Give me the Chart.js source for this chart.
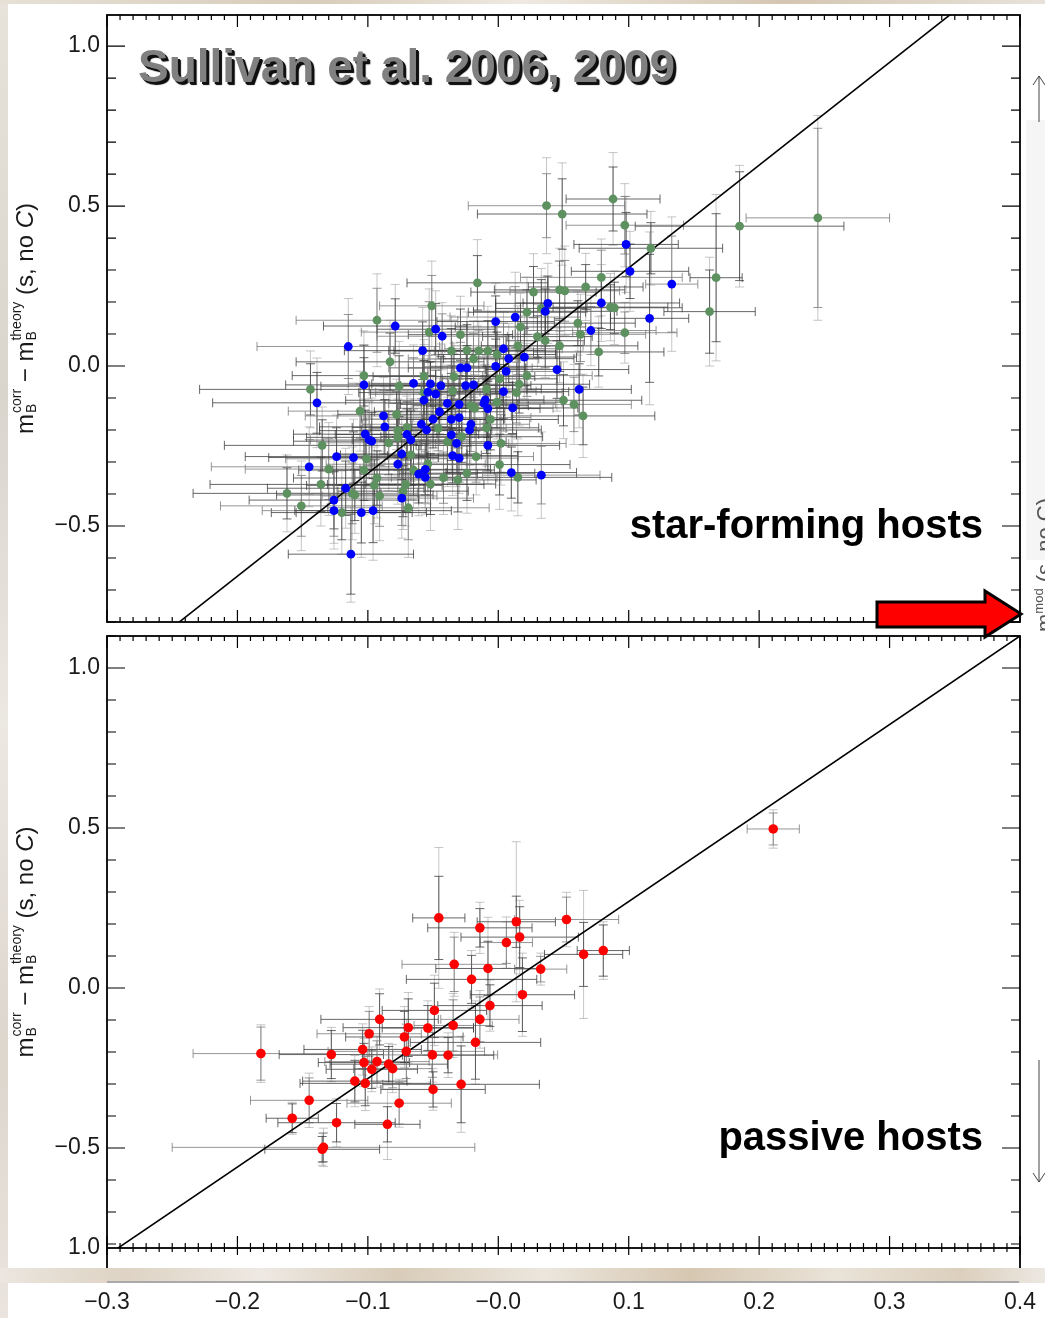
<!DOCTYPE html>
<html>
<head>
<meta charset="utf-8">
<script src="https://cdn.jsdelivr.net/npm/chart.js@4.4.1/dist/chart.umd.min.js"></script>
<style>
  html, body { margin: 0; padding: 0; background: #fff; }
  body { position: relative; width: 1045px; height: 1318px; overflow: hidden;
         font-family: 'Liberation Sans', Arial, Helvetica, sans-serif; }
  canvas { position: absolute; left: 0; }
  #topPanel { top: 0; }
  #bottomPanel { top: 630px; }
  .marble { position: absolute; }
  #edgeLeft { left: 0; top: 0; width: 8px; height: 1318px;
              background: linear-gradient(180deg, #e7e2da, #d9d4cc 30%, #ece8e2 55%, #dcd6cd 80%, #e9e4dd); }
  #edgeTop { left: 0; top: 0; width: 1045px; height: 4px;
             background: linear-gradient(90deg, #e6e0d6, #d8ccba 30%, #efe9e1 50%, #d4c6b2 75%, #e8e2da); }
  #edgeBottom { left: 0; top: 1268px; width: 1045px; height: 15px;
                background: linear-gradient(90deg, #ebe6df, #ded3c4 12%, #eee9e3 25%, #d9ccb9 38%, #ece6dd 52%, #d6c7b1 66%, #eae3d8 80%, #dccfbd 92%, #ece8e2); }
  #edgeLine { left: 107px; top: 1281px; width: 912px; height: 2px; background: #a9a9a9; }
  .note { position: absolute; font-weight: bold; white-space: nowrap; }
  #source { left: 138px; top: 43px; font-size: 46px; line-height: 46px; color: #808080;
            text-shadow: 2px 2px 0 #111, 3px 3px 1px #000; }
  #sfLabel { right: 62px; top: 504px; font-size: 40px; line-height: 40px; color: #000; }
  #pLabel { right: 62px; top: 1116px; font-size: 40px; line-height: 40px; color: #000; }
  svg { position: absolute; left: 0; top: 0; }
</style>
</head>
<body>
<div class="marble" id="edgeLeft"></div>
<div class="marble" id="edgeTop"></div>
<canvas id="topPanel" width="1045" height="630"></canvas>
<canvas id="bottomPanel" width="1045" height="688"></canvas>
<div class="marble" id="edgeBottom"></div>
<div class="marble" id="edgeLine"></div>
<div class="note" id="source">Sullivan et al. 2006, 2009</div>
<div class="note" id="sfLabel">star-forming hosts</div>
<div class="note" id="pLabel">passive hosts</div>
<svg width="1045" height="1318">
  <rect x="1026" y="120" width="19" height="440" fill="#f5f5f5"/>
  <line x1="1039" y1="122" x2="1039" y2="76" stroke="#444" stroke-width="1"/>
  <polyline points="1033,85 1039,76 1045,85" fill="none" stroke="#444" stroke-width="1"/>
  <line x1="1039" y1="1060" x2="1039" y2="1182" stroke="#444" stroke-width="1"/>
  <polyline points="1033,1173 1039,1182 1045,1173" fill="none" stroke="#444" stroke-width="1"/>
  <text transform="translate(1052,632) rotate(-90)" font-family="Liberation Sans, Arial, sans-serif" font-size="22" fill="#555">m<tspan font-size="13" dy="-9">mod</tspan><tspan dy="9"> (s, no C)</tspan></text>
  <polygon points="877,602 985,602 985,591 1021,614 985,637 985,627 877,627" fill="#ff0000" stroke="#000" stroke-width="3" stroke-linejoin="miter"/>
</svg>

<script>
// axis ranges and tick labels
const xRange = [-0.3, 0.4];
const topYRange = [-0.8, 1.097];
const bottomYRange = [-0.8125, 1.1];
const xTickValues = [-0.3, -0.2, -0.1, 0.0, 0.1, 0.2, 0.3, 0.4];
const xTickLabels = ['−0.3', '−0.2', '−0.1', '−0.0', '0.1', '0.2', '0.3', '0.4'];
const topYTickValues = [1.0, 0.5, 0.0, -0.5];
const topYTickLabels = ['1.0', '0.5', '0.0', '−0.5'];
const bottomYTickValues = [1.0, 0.5, 0.0, -0.5, -0.8125];
const bottomYTickLabels = ['1.0', '0.5', '0.0', '−0.5', '1.0'];

// one-to-one reference lines
const topFitLine = [[-0.30, -0.978], [0.40, 1.270]];
const bottomFitLine = [[-0.30, -0.836], [0.40, 1.100]];

// [x, y, x error, y error (stat), y error (total)]
const greenHosts = [
  [0.037, 0.501, 0.060, 0.100, 0.150], [-0.016, 0.260, 0.054, 0.085, 0.135],
  [0.027, 0.231, 0.048, 0.080, 0.120], [-0.051, 0.188, 0.040, 0.095, 0.140],
  [0.022, 0.168, 0.045, 0.070, 0.110], [0.033, 0.180, 0.035, 0.090, 0.125],
  [-0.093, 0.143, 0.062, 0.100, 0.145], [0.017, 0.122, 0.050, 0.075, 0.105],
  [-0.029, 0.098, 0.040, 0.080, 0.120], [-0.053, 0.106, 0.052, 0.095, 0.135],
  [0.036, 0.079, 0.030, 0.085, 0.115], [0.030, 0.092, 0.042, 0.065, 0.100],
  [0.015, 0.063, 0.050, 0.090, 0.125], [-0.036, 0.047, 0.044, 0.070, 0.110],
  [-0.024, 0.049, 0.060, 0.080, 0.120], [-0.015, 0.047, 0.034, 0.065, 0.095],
  [-0.008, 0.047, 0.052, 0.095, 0.140], [-0.001, 0.036, 0.045, 0.070, 0.105],
  [-0.019, 0.022, 0.050, 0.080, 0.120], [-0.083, 0.013, 0.072, 0.090, 0.130],
  [-0.103, -0.030, 0.055, 0.095, 0.140], [-0.057, -0.032, 0.045, 0.080, 0.115],
  [-0.034, -0.033, 0.062, 0.070, 0.105], [0.001, -0.040, 0.044, 0.090, 0.130],
  [0.022, -0.030, 0.050, 0.065, 0.100], [-0.144, -0.073, 0.085, 0.080, 0.120],
  [-0.076, -0.063, 0.060, 0.095, 0.140], [-0.106, -0.141, 0.055, 0.085, 0.125],
  [-0.078, -0.151, 0.045, 0.070, 0.110], [-0.057, -0.083, 0.050, 0.100, 0.150],
  [-0.035, -0.078, 0.064, 0.080, 0.120], [-0.009, -0.072, 0.042, 0.070, 0.105],
  [0.016, -0.057, 0.054, 0.090, 0.130], [0.014, -0.083, 0.035, 0.095, 0.140],
  [-0.001, -0.113, 0.050, 0.080, 0.115], [-0.021, -0.124, 0.044, 0.085, 0.125],
  [-0.018, -0.132, 0.060, 0.070, 0.105], [-0.006, -0.167, 0.052, 0.095, 0.140],
  [-0.009, -0.193, 0.040, 0.080, 0.120], [0.002, -0.242, 0.050, 0.090, 0.130],
  [-0.028, -0.221, 0.062, 0.080, 0.115], [-0.039, -0.237, 0.045, 0.095, 0.140],
  [-0.046, -0.195, 0.052, 0.070, 0.105], [-0.077, -0.202, 0.060, 0.085, 0.125],
  [-0.070, -0.192, 0.042, 0.080, 0.115], [-0.084, -0.240, 0.050, 0.100, 0.150],
  [-0.077, -0.223, 0.070, 0.080, 0.120], [-0.067, -0.278, 0.054, 0.095, 0.140],
  [-0.054, -0.306, 0.044, 0.085, 0.125], [-0.065, -0.325, 0.062, 0.080, 0.120],
  [-0.052, -0.369, 0.050, 0.095, 0.145], [-0.042, -0.349, 0.040, 0.080, 0.115],
  [-0.031, -0.356, 0.060, 0.100, 0.155], [-0.024, -0.335, 0.052, 0.085, 0.125],
  [-0.017, -0.283, 0.044, 0.080, 0.120], [0.001, -0.308, 0.054, 0.095, 0.140],
  [0.015, -0.348, 0.072, 0.080, 0.120], [-0.101, -0.290, 0.062, 0.085, 0.130],
  [-0.103, -0.325, 0.050, 0.095, 0.140], [-0.135, -0.248, 0.075, 0.080, 0.120],
  [-0.130, -0.322, 0.064, 0.095, 0.145], [-0.136, -0.370, 0.085, 0.085, 0.130],
  [-0.162, -0.398, 0.072, 0.080, 0.120], [-0.151, -0.437, 0.062, 0.095, 0.140],
  [-0.120, -0.458, 0.054, 0.085, 0.130], [-0.110, -0.403, 0.060, 0.080, 0.120],
  [-0.112, -0.398, 0.050, 0.095, 0.145], [-0.093, -0.350, 0.064, 0.085, 0.125],
  [-0.095, -0.373, 0.052, 0.080, 0.120], [-0.091, -0.406, 0.044, 0.095, 0.140],
  [-0.071, -0.370, 0.060, 0.085, 0.130], [-0.073, -0.391, 0.050, 0.080, 0.120],
  [-0.069, -0.443, 0.062, 0.100, 0.155], [0.049, 0.475, 0.065, 0.110, 0.160],
  [0.088, 0.522, 0.036, 0.100, 0.145], [0.097, 0.440, 0.045, 0.090, 0.130],
  [0.117, 0.368, 0.055, 0.080, 0.115], [0.185, 0.437, 0.080, 0.170, 0.190],
  [0.245, 0.463, 0.055, 0.280, 0.320], [0.167, 0.276, 0.020, 0.200, 0.260],
  [0.162, 0.170, 0.035, 0.130, 0.170], [0.079, 0.277, 0.062, 0.085, 0.120],
  [0.067, 0.247, 0.044, 0.070, 0.105], [0.047, 0.238, 0.050, 0.090, 0.130],
  [0.051, 0.235, 0.042, 0.095, 0.140], [0.047, 0.063, 0.060, 0.080, 0.115],
  [0.061, 0.134, 0.044, 0.070, 0.100], [0.063, 0.099, 0.050, 0.085, 0.125],
  [0.086, 0.184, 0.044, 0.070, 0.105], [0.089, 0.182, 0.052, 0.080, 0.115],
  [0.097, 0.104, 0.040, 0.065, 0.095], [0.077, 0.044, 0.050, 0.075, 0.110],
  [0.050, -0.107, 0.060, 0.080, 0.120], [0.058, -0.120, 0.044, 0.085, 0.125],
  [0.065, -0.156, 0.055, 0.090, 0.130]
];

const blueHosts = [
  [-0.115, 0.061, 0.070, 0.100, 0.150], [-0.079, 0.125, 0.055, 0.085, 0.130],
  [-0.048, 0.115, 0.045, 0.080, 0.120], [-0.043, 0.093, 0.050, 0.070, 0.105],
  [-0.058, 0.048, 0.060, 0.090, 0.135], [-0.002, 0.139, 0.045, 0.080, 0.120],
  [0.013, 0.153, 0.050, 0.095, 0.140], [0.038, 0.196, 0.040, 0.085, 0.125],
  [0.036, 0.171, 0.055, 0.070, 0.110], [0.004, 0.054, 0.045, 0.080, 0.115],
  [0.008, 0.023, 0.050, 0.075, 0.110], [0.020, 0.028, 0.040, 0.090, 0.130],
  [-0.029, -0.006, 0.055, 0.080, 0.120], [-0.024, -0.006, 0.045, 0.070, 0.105],
  [-0.002, -0.001, 0.050, 0.085, 0.125], [0.006, -0.017, 0.040, 0.080, 0.115],
  [-0.139, -0.115, 0.080, 0.095, 0.140], [-0.103, -0.059, 0.060, 0.085, 0.125],
  [-0.065, -0.054, 0.050, 0.080, 0.120], [-0.052, -0.056, 0.045, 0.070, 0.105],
  [-0.044, -0.061, 0.055, 0.090, 0.130], [-0.054, -0.082, 0.040, 0.080, 0.115],
  [-0.048, -0.088, 0.050, 0.075, 0.110], [-0.057, -0.107, 0.060, 0.085, 0.125],
  [-0.039, -0.117, 0.045, 0.080, 0.120], [-0.045, -0.143, 0.050, 0.070, 0.105],
  [-0.050, -0.166, 0.055, 0.090, 0.135], [-0.059, -0.182, 0.045, 0.080, 0.120],
  [-0.055, -0.200, 0.050, 0.085, 0.125], [-0.036, -0.167, 0.040, 0.075, 0.110],
  [-0.030, -0.161, 0.055, 0.080, 0.120], [-0.030, -0.120, 0.045, 0.090, 0.130],
  [-0.025, -0.061, 0.050, 0.070, 0.105], [-0.019, -0.059, 0.040, 0.080, 0.115],
  [0.004, -0.080, 0.050, 0.085, 0.125], [-0.010, -0.106, 0.045, 0.075, 0.110],
  [-0.011, -0.117, 0.055, 0.080, 0.120], [-0.008, -0.133, 0.040, 0.090, 0.130],
  [0.011, -0.131, 0.050, 0.080, 0.115], [-0.021, -0.182, 0.045, 0.085, 0.125],
  [-0.022, -0.200, 0.055, 0.075, 0.110], [-0.036, -0.215, 0.050, 0.080, 0.120],
  [-0.032, -0.242, 0.040, 0.090, 0.135], [-0.008, -0.248, 0.055, 0.080, 0.120],
  [-0.035, -0.280, 0.050, 0.085, 0.125], [-0.030, -0.288, 0.045, 0.075, 0.110],
  [-0.070, -0.214, 0.055, 0.080, 0.120], [-0.067, -0.231, 0.045, 0.090, 0.130],
  [-0.088, -0.156, 0.060, 0.080, 0.120], [-0.087, -0.190, 0.050, 0.085, 0.125],
  [-0.102, -0.213, 0.055, 0.075, 0.110], [-0.099, -0.231, 0.045, 0.080, 0.120],
  [-0.097, -0.235, 0.060, 0.090, 0.135], [-0.074, -0.275, 0.050, 0.080, 0.120],
  [-0.077, -0.307, 0.055, 0.085, 0.125], [-0.111, -0.286, 0.065, 0.080, 0.120],
  [-0.124, -0.283, 0.070, 0.090, 0.130], [-0.145, -0.315, 0.075, 0.085, 0.125],
  [-0.056, -0.323, 0.050, 0.080, 0.120], [-0.061, -0.338, 0.045, 0.090, 0.130],
  [-0.056, -0.348, 0.055, 0.080, 0.115], [-0.117, -0.382, 0.060, 0.085, 0.125],
  [-0.126, -0.419, 0.065, 0.090, 0.135], [-0.126, -0.452, 0.055, 0.080, 0.120],
  [-0.105, -0.458, 0.050, 0.095, 0.140], [-0.096, -0.452, 0.060, 0.100, 0.155],
  [-0.074, -0.413, 0.055, 0.085, 0.125], [-0.113, -0.588, 0.048, 0.125, 0.150],
  [0.010, -0.333, 0.050, 0.080, 0.120], [0.033, -0.341, 0.045, 0.090, 0.135],
  [0.098, 0.380, 0.040, 0.100, 0.150], [0.101, 0.296, 0.045, 0.085, 0.125],
  [0.133, 0.256, 0.020, 0.150, 0.210], [0.116, 0.149, 0.030, 0.200, 0.270],
  [0.079, 0.197, 0.060, 0.080, 0.120], [0.071, 0.111, 0.050, 0.075, 0.110],
  [0.045, -0.011, 0.055, 0.090, 0.130], [0.062, -0.073, 0.040, 0.080, 0.120]
];

const passiveHosts = [
  [-0.182, -0.205, 0.052, 0.083, 0.090], [-0.128, -0.208, 0.040, 0.075, 0.085],
  [-0.104, -0.192, 0.045, 0.060, 0.080], [-0.099, -0.143, 0.040, 0.070, 0.085],
  [-0.091, -0.098, 0.045, 0.080, 0.095], [-0.103, -0.233, 0.035, 0.060, 0.075],
  [-0.093, -0.230, 0.040, 0.065, 0.080], [-0.097, -0.254, 0.035, 0.060, 0.070],
  [-0.084, -0.238, 0.045, 0.055, 0.065], [-0.081, -0.252, 0.030, 0.060, 0.075],
  [-0.110, -0.291, 0.040, 0.065, 0.080], [-0.102, -0.298, 0.050, 0.070, 0.085],
  [-0.145, -0.351, 0.045, 0.070, 0.085], [-0.158, -0.407, 0.020, 0.045, 0.050],
  [-0.124, -0.421, 0.045, 0.060, 0.075], [-0.134, -0.498, 0.116, 0.045, 0.060],
  [-0.135, -0.504, 0.044, 0.040, 0.050], [-0.085, -0.426, 0.025, 0.055, 0.110],
  [-0.076, -0.360, 0.040, 0.065, 0.075], [-0.072, -0.153, 0.045, 0.080, 0.095],
  [-0.069, -0.124, 0.050, 0.090, 0.110], [-0.0705, -0.198, 0.060, 0.085, 0.100],
  [-0.054, -0.125, 0.035, 0.070, 0.085], [-0.049, -0.070, 0.040, 0.085, 0.110],
  [-0.0505, -0.209, 0.050, 0.070, 0.085], [-0.050, -0.317, 0.040, 0.055, 0.065],
  [-0.0385, -0.210, 0.035, 0.055, 0.070], [-0.0346, -0.117, 0.030, 0.080, 0.100],
  [-0.0285, -0.301, 0.060, 0.120, 0.150], [-0.0175, -0.170, 0.050, 0.115, 0.130],
  [-0.0141, -0.098, 0.030, 0.070, 0.090], [-0.0064, -0.055, 0.040, 0.065, 0.080],
  [0.0185, -0.021, 0.040, 0.115, 0.130], [0.0325, 0.059, 0.020, 0.040, 0.050],
  [0.0164, 0.159, 0.045, 0.095, 0.115], [0.0138, 0.207, 0.030, 0.080, 0.250],
  [0.0062, 0.142, 0.020, 0.065, 0.080], [-0.0079, 0.061, 0.040, 0.085, 0.160],
  [-0.0205, 0.027, 0.050, 0.075, 0.090], [-0.0338, 0.074, 0.040, 0.085, 0.100],
  [-0.0141, 0.188, 0.040, 0.060, 0.080], [-0.0456, 0.219, 0.020, 0.130, 0.220],
  [0.0523, 0.214, 0.040, 0.070, 0.085], [0.0654, 0.105, 0.030, 0.100, 0.200],
  [0.0805, 0.117, 0.020, 0.080, 0.090], [0.2108, 0.497, 0.020, 0.050, 0.060]
];

const FONT = "'Liberation Sans', Arial, Helvetica, sans-serif";
const INK = '#1a1a1a';
Chart.defaults.font.family = FONT;

function toXY(rows) { return rows.map(r => ({ x: r[0], y: r[1] })); }

function drawErrorBars(chart, seriesList) {
  const { ctx, chartArea: a, scales: { x, y } } = chart;
  const cap = 4.5;
  ctx.save();
  ctx.beginPath();
  ctx.rect(a.left, a.top, a.right - a.left, a.bottom - a.top);
  ctx.clip();
  ctx.lineWidth = 1;
  // pale total-error bars first
  ctx.strokeStyle = 'rgba(160,160,160,0.6)';
  ctx.beginPath();
  seriesList.forEach(rows => rows.forEach(r => {
    const px = x.getPixelForValue(r[0]);
    const y1 = y.getPixelForValue(r[1] + r[4]), y2 = y.getPixelForValue(r[1] - r[4]);
    ctx.moveTo(px, y1); ctx.lineTo(px, y2);
    ctx.moveTo(px - cap, y1); ctx.lineTo(px + cap, y1);
    ctx.moveTo(px - cap, y2); ctx.lineTo(px + cap, y2);
  }));
  ctx.stroke();
  // darker statistical bars
  seriesList.forEach(rows => rows.forEach((r, i) => {
    ctx.strokeStyle = i % 3 === 0 ? 'rgba(115,115,115,0.75)' : 'rgba(60,60,60,0.78)';
    const px = x.getPixelForValue(r[0]), py = y.getPixelForValue(r[1]);
    const y1 = y.getPixelForValue(r[1] + r[3]), y2 = y.getPixelForValue(r[1] - r[3]);
    const x1 = x.getPixelForValue(r[0] - r[2]), x2 = x.getPixelForValue(r[0] + r[2]);
    ctx.beginPath();
    ctx.moveTo(px, y1); ctx.lineTo(px, y2);
    ctx.moveTo(px - cap, y1); ctx.lineTo(px + cap, y1);
    ctx.moveTo(px - cap, y2); ctx.lineTo(px + cap, y2);
    ctx.moveTo(x1, py); ctx.lineTo(x2, py);
    ctx.moveTo(x1, py - cap); ctx.lineTo(x1, py + cap);
    ctx.moveTo(x2, py - cap); ctx.lineTo(x2, py + cap);
    ctx.stroke();
  }));
  ctx.restore();
}

function drawFrame(chart, isBottom) {
  const { ctx, chartArea: a, scales: { x, y } } = chart;
  ctx.save();
  ctx.strokeStyle = '#000';
  ctx.lineWidth = 1.2;
  ctx.beginPath();
  for (let k = -30; k <= 40; k++) {
    const px = x.getPixelForValue(k / 100);
    const major = k % 10 === 0;
    const len = major ? 12 : 5;
    ctx.moveTo(px, a.top); ctx.lineTo(px, a.top + len);
    ctx.moveTo(px, a.bottom); ctx.lineTo(px, a.bottom - len);
    if (isBottom) { ctx.moveTo(px, a.bottom); ctx.lineTo(px, a.bottom + (major ? 7 : 4)); }
  }
  for (let k = Math.ceil(y.min * 10 - 1e-9); k <= Math.floor(y.max * 10 + 1e-9); k++) {
    const py = y.getPixelForValue(k / 10);
    const len = k % 5 === 0 ? 18 : 9;
    ctx.moveTo(a.left, py); ctx.lineTo(a.left + len, py);
    ctx.moveTo(a.right, py); ctx.lineTo(a.right - len, py);
  }
  ctx.stroke();
  ctx.lineWidth = 1.8;
  ctx.strokeRect(a.left, a.top, a.right - a.left, a.bottom - a.top);
  if (isBottom) {
    ctx.beginPath();
    ctx.moveTo(a.left, a.bottom); ctx.lineTo(a.left, a.bottom + 20);
    ctx.moveTo(a.right, a.bottom); ctx.lineTo(a.right, a.bottom + 20);
    ctx.stroke();
  }
  ctx.restore();
}

function drawYTitle(chart) {
  const { ctx, chartArea: a } = chart;
  const big = '24px ' + FONT, small = '14px ' + FONT, ital = 'italic 24px ' + FONT;
  const parts = [
    { text: 'm', font: big },
    { sup: 'corr', sub: 'B' },
    { text: ' − m', font: big },
    { sup: 'theory', sub: 'B' },
    { text: ' (s, no ', font: big },
    { text: 'C', font: ital },
    { text: ')', font: big }
  ];
  ctx.save();
  parts.forEach(p => {
    if (p.text) { ctx.font = p.font; p.w = ctx.measureText(p.text).width; }
    else { ctx.font = small; p.w = Math.max(ctx.measureText(p.sup).width, ctx.measureText(p.sub).width) + 1; }
  });
  const total = parts.reduce((s, p) => s + p.w, 0);
  ctx.translate(33, (a.top + a.bottom) / 2);
  ctx.rotate(-Math.PI / 2);
  ctx.fillStyle = INK;
  ctx.textBaseline = 'alphabetic';
  let cx = -total / 2;
  parts.forEach(p => {
    if (p.text) { ctx.font = p.font; ctx.fillText(p.text, cx, 0); }
    else {
      ctx.font = small;
      ctx.fillText(p.sup, cx + 1, -12);
      ctx.fillText(p.sub, cx + 1, 3);
    }
    cx += p.w;
  });
  ctx.restore();
}

function panelPlugin(seriesList, isBottom) {
  return {
    id: 'panelDecor',
    beforeDatasetsDraw(chart) { drawErrorBars(chart, seriesList); },
    afterDraw(chart) { drawFrame(chart, isBottom); drawYTitle(chart); }
  };
}

function yScale(range, values, labels) {
  return {
    type: 'linear', min: range[0], max: range[1],
    grid: { display: false, drawTicks: false }, border: { display: false },
    ticks: { font: { size: 23 }, color: INK, padding: 7, autoSkip: false,
             callback: (v, i) => labels[i] },
    afterBuildTicks: s => { s.ticks = values.map(v => ({ value: v })); },
    afterFit: s => { s.width = 107; s.paddingTop = 0; s.paddingBottom = 0; }
  };
}

function lineSet(pts) {
  return { type: 'line', data: pts.map(p => ({ x: p[0], y: p[1] })), borderColor: '#000',
           borderWidth: 1.6, pointRadius: 0, fill: false, tension: 0 };
}

const common = {
  animation: false, responsive: false, events: [],
  plugins: { legend: { display: false }, tooltip: { enabled: false } }
};

new Chart(document.getElementById('topPanel'), {
  type: 'scatter',
  data: {
    datasets: [
      { data: toXY(blueHosts), backgroundColor: '#0000ff', borderWidth: 0, pointRadius: 4.4 },
      { data: toXY(greenHosts), backgroundColor: '#5e9160', borderWidth: 0, pointRadius: 4.4 },
      lineSet(topFitLine)
    ]
  },
  options: Object.assign({}, common, {
    layout: { padding: { top: 15, right: 25, bottom: 8, left: 0 } },
    scales: {
      x: { type: 'linear', min: xRange[0], max: xRange[1], display: false },
      y: yScale(topYRange, topYTickValues, topYTickLabels)
    }
  }),
  plugins: [panelPlugin([greenHosts, blueHosts], false)]
});

new Chart(document.getElementById('bottomPanel'), {
  type: 'scatter',
  data: {
    datasets: [
      { data: toXY(passiveHosts), backgroundColor: '#ff0000', borderWidth: 0, pointRadius: 4.8 },
      lineSet(bottomFitLine)
    ]
  },
  options: Object.assign({}, common, {
    layout: { padding: { top: 6, right: 25, bottom: 0, left: 0 } },
    scales: {
      x: {
        type: 'linear', min: xRange[0], max: xRange[1],
        grid: { display: false, drawTicks: false }, border: { display: false },
        ticks: { font: { size: 23 }, color: INK, padding: 41, autoSkip: false, maxRotation: 0,
                 callback: (v, i) => xTickLabels[i] },
        afterBuildTicks: s => { s.ticks = xTickValues.map(v => ({ value: v })); },
        afterFit: s => { s.height = 70; s.paddingLeft = 0; s.paddingRight = 0; }
      },
      y: yScale(bottomYRange, bottomYTickValues, bottomYTickLabels)
    }
  }),
  plugins: [panelPlugin([passiveHosts], true)]
});
</script>
</body>
</html>
